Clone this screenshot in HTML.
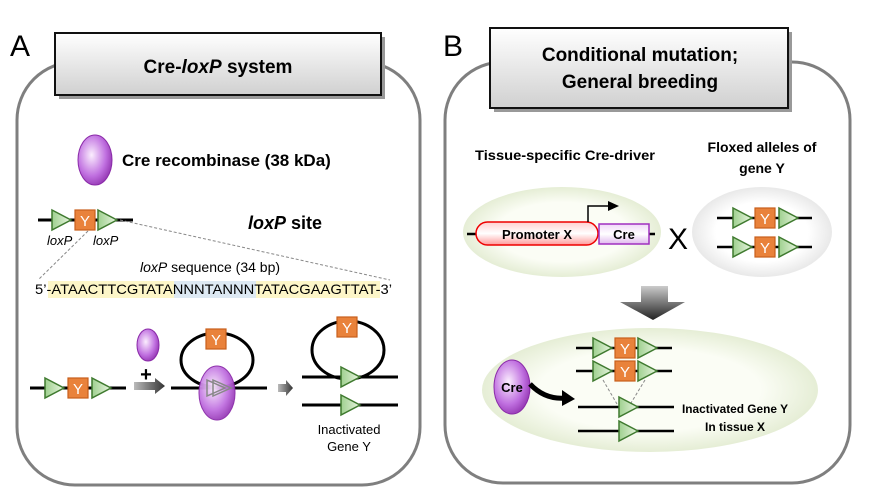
<!DOCTYPE html>
<html><head><meta charset="utf-8"><style>body{margin:0;background:#fff}svg{display:block}text{font-family:"Liberation Sans",sans-serif}</style></head><body>
<svg width="895" height="498" viewBox="0 0 895 498" xmlns="http://www.w3.org/2000/svg">
<defs>
<linearGradient id="tb" x1="0" y1="0" x2="0" y2="1"><stop offset="0" stop-color="#fff"/><stop offset="1" stop-color="#d0d0d0"/></linearGradient>
<radialGradient id="cre" cx="0.4" cy="0.4" r="0.7"><stop offset="0" stop-color="#fbeefe"/><stop offset="0.6" stop-color="#c070e0"/><stop offset="1" stop-color="#8a2aa8"/></radialGradient>
<radialGradient id="gr" cx="0.5" cy="0.5" r="0.55"><stop offset="0.6" stop-color="#fbfdf5"/><stop offset="1" stop-color="#dfe9cc"/></radialGradient>
<radialGradient id="gy" cx="0.5" cy="0.5" r="0.55"><stop offset="0.6" stop-color="#fff"/><stop offset="1" stop-color="#e2e2e2"/></radialGradient>
<linearGradient id="tri" x1="0" y1="0" x2="1" y2="0"><stop offset="0" stop-color="#9fd08f"/><stop offset="1" stop-color="#e8f5e0"/></linearGradient>
<linearGradient id="pr" x1="0" y1="0" x2="0" y2="1"><stop offset="0" stop-color="#ffd0d0"/><stop offset="0.5" stop-color="#fff"/><stop offset="1" stop-color="#ff9a9a"/></linearGradient>
<linearGradient id="cr" x1="0" y1="0" x2="0" y2="1"><stop offset="0" stop-color="#f0d8f8"/><stop offset="0.5" stop-color="#fff"/><stop offset="1" stop-color="#e0b8ee"/></linearGradient>
<linearGradient id="da" x1="0" y1="0" x2="0" y2="1"><stop offset="0" stop-color="#ccc"/><stop offset="1" stop-color="#222"/></linearGradient>
<linearGradient id="ra" x1="0" y1="0" x2="1" y2="0"><stop offset="0" stop-color="#bbb"/><stop offset="1" stop-color="#333"/></linearGradient>
<g id="t"><path d="M0,-10 L19,0 L0,10 Z" fill="url(#tri)" stroke="#3f7a2f" stroke-width="1.5"/></g>
<g id="y"><rect x="0" y="-10" width="20" height="20" fill="#e9823b" stroke="#c85f1c" stroke-width="1.2"/><text x="10" y="6" font-size="15" fill="#fff" text-anchor="middle">Y</text></g>
</defs>
<!-- Panel A -->
<rect x="17" y="62" width="403" height="423" rx="58" fill="#fff" stroke="#7f7f7f" stroke-width="3"/>
<rect x="59" y="37" width="326" height="62" fill="#999"/>
<rect x="55" y="33" width="326" height="62" fill="url(#tb)" stroke="#111" stroke-width="2"/>
<text x="218" y="73" font-size="19" font-weight="bold" text-anchor="middle">Cre-<tspan font-style="italic">loxP</tspan> system</text>
<text x="10" y="56" font-size="30">A</text>
<ellipse cx="95" cy="160" rx="17" ry="25" fill="url(#cre)" stroke="#8a2aa8"/>
<text x="122" y="166" font-size="17" font-weight="bold">Cre recombinase (38 kDa)</text>
<line x1="38" y1="220" x2="133" y2="220" stroke="#000" stroke-width="3"/>
<use href="#t" x="52" y="220"/><use href="#y" x="75" y="220"/><use href="#t" x="98" y="220"/>
<text x="47" y="245" font-size="13" font-style="italic">loxP</text><text x="93" y="245" font-size="13" font-style="italic">loxP</text>
<text x="248" y="229" font-size="18" font-weight="bold"><tspan font-style="italic">loxP</tspan> site</text>
<line x1="88" y1="231" x2="38" y2="280" stroke="#888" stroke-dasharray="3,2"/>
<line x1="120" y1="220" x2="390" y2="280" stroke="#888" stroke-dasharray="3,2"/>
<text x="210" y="272" font-size="14" text-anchor="middle"><tspan font-style="italic">loxP</tspan> sequence (34 bp)</text>
<rect x="48" y="281" width="126" height="17" fill="#fdf6c8"/><rect x="174" y="281" width="82" height="17" fill="#dde9f3"/><rect x="256" y="281" width="124" height="17" fill="#fdf6c8"/>
<text x="35" y="294" font-size="14" textLength="357" lengthAdjust="spacingAndGlyphs">5’-ATAACTTCGTATANNNTANNNTATACGAAGTTAT-3’</text>
<line x1="30" y1="388" x2="126" y2="388" stroke="#000" stroke-width="3"/>
<use href="#t" x="45" y="388"/><use href="#y" x="68" y="388"/><use href="#t" x="92" y="388"/>
<ellipse cx="148" cy="345" rx="11" ry="16" fill="url(#cre)" stroke="#8a2aa8"/>
<text x="146" y="381" font-size="20" font-weight="bold" text-anchor="middle">+</text>
<path d="M134,382 L155,382 L155,378 L165,386 L155,394 L155,390 L134,390 Z" fill="url(#ra)"/>
<ellipse cx="217" cy="360" rx="36" ry="27" fill="none" stroke="#000" stroke-width="3"/>
<line x1="171" y1="388" x2="267" y2="388" stroke="#000" stroke-width="3"/>
<use href="#y" x="206" y="339"/>
<ellipse cx="217" cy="393" rx="18" ry="27" fill="url(#cre)" stroke="#8a2aa8" opacity="0.95"/>
<path d="M207,380 L225,388 L207,396Z M213,380 L231,388 L213,396Z" fill="none" stroke="#888" stroke-width="1.5"/>
<path d="M278,384 L286,384 L286,380 L293,388 L286,396 L286,392 L278,392Z" fill="url(#ra)"/>
<ellipse cx="348" cy="350" rx="36" ry="29" fill="none" stroke="#000" stroke-width="3"/>
<line x1="302" y1="377" x2="398" y2="377" stroke="#000" stroke-width="3"/>
<use href="#y" x="337" y="327"/><use href="#t" x="341" y="377"/>
<line x1="302" y1="405" x2="398" y2="405" stroke="#000" stroke-width="3"/><use href="#t" x="341" y="405"/>
<text x="349" y="434" font-size="13" text-anchor="middle">Inactivated</text><text x="349" y="451" font-size="13" text-anchor="middle">Gene Y</text>
<!-- Panel B -->
<rect x="445" y="62" width="405" height="421" rx="58" fill="#fff" stroke="#7f7f7f" stroke-width="3"/>
<rect x="494" y="32" width="298" height="80" fill="#999"/>
<rect x="490" y="28" width="298" height="80" fill="url(#tb)" stroke="#111" stroke-width="2"/>
<text x="640" y="61" font-size="19" font-weight="bold" text-anchor="middle">Conditional mutation;</text>
<text x="640" y="88" font-size="19" font-weight="bold" text-anchor="middle">General breeding</text>
<text x="443" y="56" font-size="30">B</text>
<text x="565" y="160" font-size="14" font-weight="bold" text-anchor="middle" textLength="180" lengthAdjust="spacingAndGlyphs">Tissue-specific Cre-driver</text>
<text x="762" y="152" font-size="14" font-weight="bold" text-anchor="middle">Floxed alleles of</text>
<text x="762" y="173" font-size="14" font-weight="bold" text-anchor="middle">gene Y</text>
<ellipse cx="562" cy="232" rx="99" ry="45" fill="url(#gr)"/>
<line x1="467" y1="234" x2="655" y2="234" stroke="#000" stroke-width="2.5"/>
<rect x="476" y="222" width="122" height="23" rx="11.5" fill="url(#pr)" stroke="#e00" stroke-width="1.5"/>
<text x="537" y="239" font-size="13" font-weight="bold" text-anchor="middle">Promoter X</text>
<rect x="599" y="224" width="50" height="20" fill="url(#cr)" stroke="#a030c0" stroke-width="1.5"/>
<text x="624" y="239" font-size="13" font-weight="bold" text-anchor="middle">Cre</text>
<path d="M588,222 L588,206 L610,206" fill="none" stroke="#000" stroke-width="1.5"/><path d="M608,201 L619,206 L608,211Z"/>
<text x="678" y="249" font-size="30" text-anchor="middle">X</text>
<ellipse cx="762" cy="232" rx="70" ry="45" fill="url(#gy)"/>
<line x1="717" y1="218" x2="812" y2="218" stroke="#000" stroke-width="2.5"/><use href="#t" x="733" y="218"/><use href="#y" x="755" y="218"/><use href="#t" x="779" y="218"/>
<line x1="717" y1="247" x2="812" y2="247" stroke="#000" stroke-width="2.5"/><use href="#t" x="733" y="247"/><use href="#y" x="755" y="247"/><use href="#t" x="779" y="247"/>
<path d="M641,286 L668,286 L668,302 L685,302 L653,320 L620,302 L641,302Z" fill="url(#da)"/>
<ellipse cx="650" cy="390" rx="168" ry="62" fill="url(#gr)"/>
<ellipse cx="512" cy="387" rx="18" ry="27" fill="url(#cre)" stroke="#8a2aa8"/>
<text x="512" y="392" font-size="13" font-weight="bold" text-anchor="middle">Cre</text>
<path d="M530,384 Q545,400 566,398" fill="none" stroke="#000" stroke-width="5"/><path d="M562,390 L575,399 L562,406Z"/>
<line x1="576" y1="348" x2="672" y2="348" stroke="#000" stroke-width="2.5"/><use href="#t" x="593" y="348"/><use href="#y" x="615" y="348"/><use href="#t" x="638" y="348"/>
<line x1="576" y1="371" x2="672" y2="371" stroke="#000" stroke-width="2.5"/><use href="#t" x="593" y="371"/><use href="#y" x="615" y="371"/><use href="#t" x="638" y="371"/>
<line x1="603" y1="380" x2="617" y2="404" stroke="#888" stroke-dasharray="3,2"/><line x1="645" y1="380" x2="631" y2="403" stroke="#888" stroke-dasharray="3,2"/>
<line x1="578" y1="407" x2="674" y2="407" stroke="#000" stroke-width="2.5"/><use href="#t" x="619" y="407"/>
<line x1="578" y1="431" x2="674" y2="431" stroke="#000" stroke-width="2.5"/><use href="#t" x="619" y="431"/>
<text x="735" y="413" font-size="12" font-weight="bold" text-anchor="middle" textLength="106" lengthAdjust="spacingAndGlyphs">Inactivated Gene Y</text>
<text x="735" y="431" font-size="12" font-weight="bold" text-anchor="middle">In tissue X</text>
</svg>
</body></html>
